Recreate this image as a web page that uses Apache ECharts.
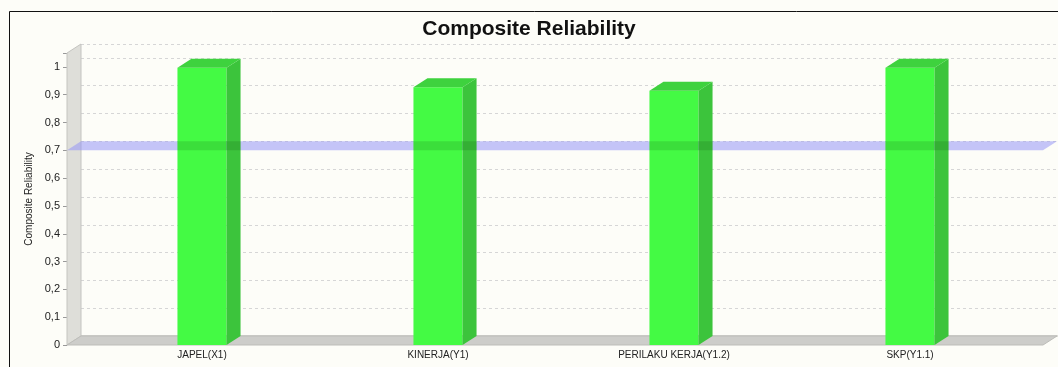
<!DOCTYPE html>
<html><head><meta charset="utf-8">
<script src="https://cdn.jsdelivr.net/npm/echarts@6/dist/echarts.min.js"></script>
<style>html,body{margin:0;padding:0;background:#fdfdf8;}#c{width:1058px;height:367px;}</style>
</head><body><div id="c"></div>
<script>
const categories = ['JAPEL(X1)', 'KINERJA(Y1)', 'PERILAKU KERJA(Y1.2)', 'SKP(Y1.1)'];
const reliability = [0.997, 0.927, 0.914, 0.997];
const threshold = [0.7];
const yMin = 0, yMax = 1.05, yStep = 0.1;

const DX = 14, DY = -9;
const chart = echarts.init(document.getElementById('c'));
const FONT = '"Liberation Sans", Arial, sans-serif';

function wallItem(params, api) {
  const tl = api.coord([0, yMax]);
  const bl = api.coord([0, yMin]);
  const br = api.coord([1, yMin]);
  return {
    type: 'group',
    children: [
      { type: 'polygon', shape: { points: [[tl[0], tl[1]], [tl[0] + DX, tl[1] + DY], [bl[0] + DX, bl[1] + DY], [bl[0], bl[1]]] },
        style: { fill: '#deded9', stroke: '#c4c4c0', lineWidth: 1 } },
      { type: 'polygon', shape: { points: [[bl[0], bl[1]], [br[0], br[1]], [br[0] + DX, br[1] + DY], [bl[0] + DX, bl[1] + DY]] },
        style: { fill: '#cdcdca', stroke: '#bdbdb9', lineWidth: 1 } }
    ]
  };
}
function bandItem(params, api) {
  const v = api.value(0);
  const a = api.coord([0, v]);
  const b = api.coord([1, v]);
  return { type: 'polygon', shape: { points: [[a[0], a[1]], [b[0], b[1]], [b[0] + DX, b[1] + DY], [a[0] + DX, a[1] + DY]] },
    style: { fill: 'rgba(150,150,245,0.55)' } };
}
function barItem(params, api) {
  const c = api.value(0), v = api.value(1);
  const top = api.coord([c, v]);
  const bot = api.coord([c, 0]);
  const thr = api.coord([c, threshold[0]]);
  const bw = api.size([1, 0])[0] * 0.208;
  const x0 = top[0] - bw / 2, x1 = top[0] + bw / 2;
  const children = [
    { type: 'rect', shape: { x: x0, y: top[1], width: bw, height: bot[1] - top[1] }, style: { fill: '#44fa44' } },
    { type: 'polygon', shape: { points: [[x1, top[1]], [x1 + DX, top[1] + DY], [x1 + DX, bot[1] + DY], [x1, bot[1]]] }, style: { fill: '#3cc43c' } },
    { type: 'polygon', shape: { points: [[x0, top[1]], [x1, top[1]], [x1 + DX, top[1] + DY], [x0 + DX, top[1] + DY]] }, style: { fill: '#3ed23e' } }
  ];
  if (v > threshold[0]) {
    children.push({ type: 'rect', shape: { x: x0, y: thr[1] + DY, width: bw + DX, height: -DY },
      style: { fill: 'rgba(0,40,0,0.13)' } });
  }
  return { type: 'group', children };
}

chart.setOption({
  backgroundColor: '#fdfdf8',
  animation: false,
  title: { text: 'Composite Reliability', left: 'center', top: 14,
    textStyle: { fontFamily: FONT, fontWeight: 'bold', fontSize: 21, color: '#111' } },
  graphic: [{ type: 'rect', shape: { x: 9.5, y: 11.5, width: 1200, height: 500 }, style: { fill: 'none', stroke: '#111', lineWidth: 1 }, z: 100, silent: true }],
  grid: [
    { left: 67, right: 15, top: 53, bottom: 22 },
    { left: 81, right: 1, top: 44, bottom: 31 },
    { left: 84, right: 30, top: 53, bottom: 22 }
  ],
  xAxis: [
    { gridIndex: 0, type: 'value', min: 0, max: 1, show: false },
    { gridIndex: 1, type: 'value', min: 0, max: 1, position: 'top', axisLine: { show: true, lineStyle: { color: '#d3d3cf', width: 2 } },
      axisTick: { show: false }, axisLabel: { show: false }, splitLine: { show: false } },
    { gridIndex: 2, type: 'category', data: categories, axisLine: { show: false }, axisTick: { show: false },
      axisLabel: { fontFamily: FONT, fontSize: 10, color: '#222', margin: 5 } }
  ],
  yAxis: [
    { gridIndex: 0, type: 'value', min: yMin, max: yMax, interval: yStep,
      name: 'Composite Reliability', nameLocation: 'middle', nameGap: 33, nameRotate: 90,
      nameTextStyle: { fontFamily: FONT, fontSize: 10, color: '#222' },
      axisLine: { show: false }, axisTick: { show: true, length: 4, lineStyle: { color: '#999' } },
      splitLine: { show: false },
      axisLabel: { fontFamily: FONT, fontSize: 11, color: '#222', margin: 7,
        formatter: v => (Math.abs(v * 10 - Math.round(v * 10)) < 1e-6 && v <= 1.0001) ? (Math.round(v * 10) / 10).toString().replace('.', ',') : '' } },
    { gridIndex: 1, type: 'value', min: yMin, max: yMax, interval: yStep, axisLine: { show: false }, axisTick: { show: false }, axisLabel: { show: false },
      splitLine: { show: true, lineStyle: { color: '#d6d6d6', type: [3, 3], width: 1 } } },
    { gridIndex: 2, type: 'value', min: yMin, max: yMax, show: false, splitLine: { show: false } }
  ],
  series: [
    { type: 'custom', xAxisIndex: 0, yAxisIndex: 0, data: [[0]], renderItem: wallItem, z: 1, silent: true },
    { type: 'custom', xAxisIndex: 0, yAxisIndex: 0, data: threshold.map(v => [v]), renderItem: bandItem, z: 2, silent: true },
    { type: 'custom', name: 'Composite Reliability', xAxisIndex: 2, yAxisIndex: 2,
      data: reliability.map((v, i) => [i, v]), renderItem: barItem, z: 3 }
  ]
});
</script></body></html>
